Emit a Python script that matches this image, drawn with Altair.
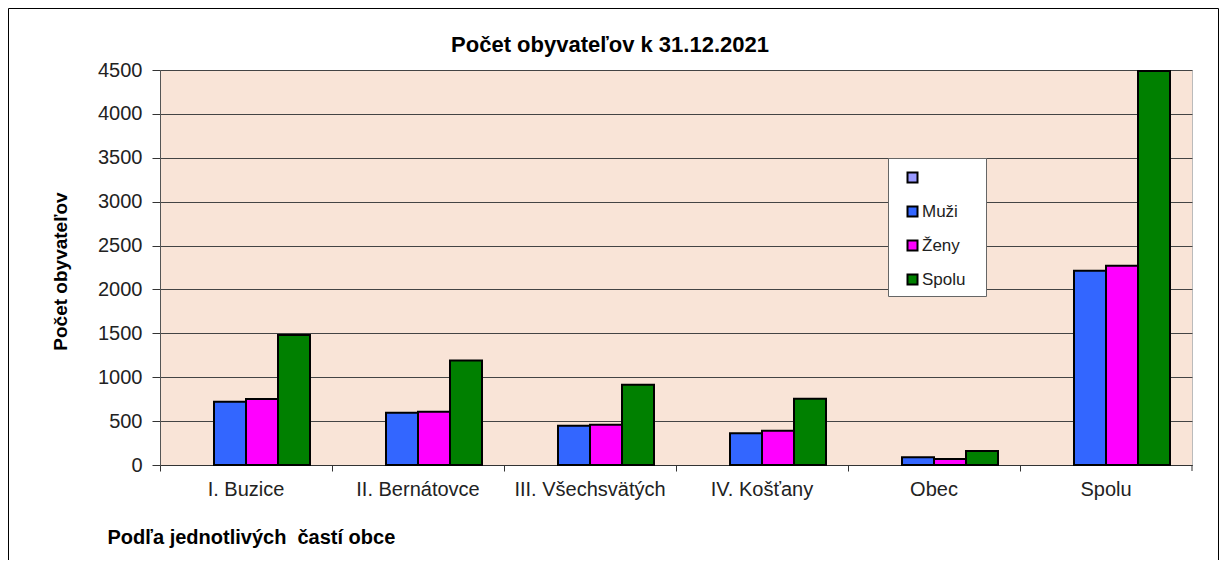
import altair as alt
import pandas as pd

categories = ["I. Buzice", "II. Bernátovce", "III. Všechsvätých", "IV. Košťany", "Obec", "Spolu"]
series_all = [" ", "Muži", "Ženy", "Spolu"]
series_colors = ["#9999FF", "#3366FF", "#FF00FF", "#008000"]
muzi = [720, 596, 448, 361, 88, 2213]
zeny = [752, 607, 459, 391, 68, 2270]
spolu = [1480, 1190, 915, 755, 160, 4490]
y_ticks = [0, 500, 1000, 1500, 2000, 2500, 3000, 3500, 4000, 4500]
title_text = "Počet obyvateľov k 31.12.2021"

rows = []
for name, vals in [("Muži", muzi), ("Ženy", zeny), ("Spolu", spolu)]:
    for c, v in zip(categories, vals):
        rows.append({"category": c, "series": name, "value": v})
df = pd.DataFrame(rows)

FONT = "Liberation Sans"
W, H = 1032, 395

bars = alt.Chart(df).mark_bar(stroke="black", strokeWidth=2).encode(
    x=alt.X(
        "category:N",
        sort=categories,
        scale=alt.Scale(paddingInner=0, paddingOuter=0),
        axis=alt.Axis(
            title="Podľa jednotlivých \u00a0častí obce",
            titleX=-53, titleY=72, titleAlign="left", titleBaseline="middle",
            titleFontSize=20, titleFontWeight="bold", titleFont=FONT, titleColor="#000",
            labelAngle=0, labelFontSize=20, labelFont=FONT, labelColor="#222",
            labelPadding=8, bandPosition=0,
            tickSize=6, tickColor="#333", domainColor="#333", grid=False,
        ),
    ),
    xOffset=alt.XOffset(
        "series:N",
        scale=alt.Scale(domain=series_all, paddingInner=0, paddingOuter=0.6875),
    ),
    y=alt.Y(
        "value:Q",
        scale=alt.Scale(domain=[0, 4500], nice=False),
        axis=alt.Axis(
            values=y_ticks, format="d",
            title="Počet obyvateľov",
            titleX=-100, titleY=201, titleAngle=-90, titleAlign="center", titleBaseline="middle",
            titleFontSize=19, titleFontWeight="bold", titleFont=FONT, titleColor="#000",
            labelFontSize=20, labelFont=FONT, labelColor="#222", labelPadding=10,
            tickSize=8, tickColor="#333", domainColor="#555",
            grid=True, gridColor="#444", gridWidth=1,
        ),
    ),
    color=alt.Color(
        "series:N",
        scale=alt.Scale(domain=series_all, range=series_colors),
        legend=alt.Legend(
            title=None, orient="none", legendX=744, legendY=99,
            padding=0,
            symbolType="square", symbolSize=100, symbolStrokeColor="black",
            symbolStrokeWidth=2, symbolOpacity=1,
            labelFontSize=17, labelFont=FONT, labelColor="#222", rowPadding=15,
            labelOffset=1,
        ),
    ),
)

legend_box = alt.Chart(pd.DataFrame({"a": [0]})).mark_rect(
    fill="white", stroke="#666", strokeWidth=1
).encode(
    x=alt.value(728.5), x2=alt.value(826.5), y=alt.value(88.5), y2=alt.value(226.5)
)

border = alt.Chart(pd.DataFrame({"a": [0]})).mark_rect(
    fillOpacity=0, stroke="black", strokeWidth=1
).encode(
    x=alt.value(-151.5), x2=alt.value(1058.5), y=alt.value(-61.5), y2=alt.value(560)
)

title = alt.Chart(pd.DataFrame({"a": [0]})).mark_text(
    font=FONT, fontSize=22, fontWeight="bold", color="#000", align="center", baseline="middle"
).encode(x=alt.value(450), y=alt.value(-25), text=alt.value(title_text))

end_tick = alt.Chart(pd.DataFrame({"a": [0]})).mark_rule(color="#333").encode(
    x=alt.value(W), y=alt.value(H), y2=alt.value(H + 6)
)

chart = alt.layer(border, title, legend_box, bars, end_tick).properties(
    width=W, height=H,
    padding={"left": 152, "top": 62, "right": 27, "bottom": 95},
    autosize=alt.AutoSizeParams(type="none"),
).configure(background="white").configure_view(fill="#F9E4D7", stroke="#BBBBBB")

chart.save("out.html", embed_options={"renderer": "svg", "actions": False})
